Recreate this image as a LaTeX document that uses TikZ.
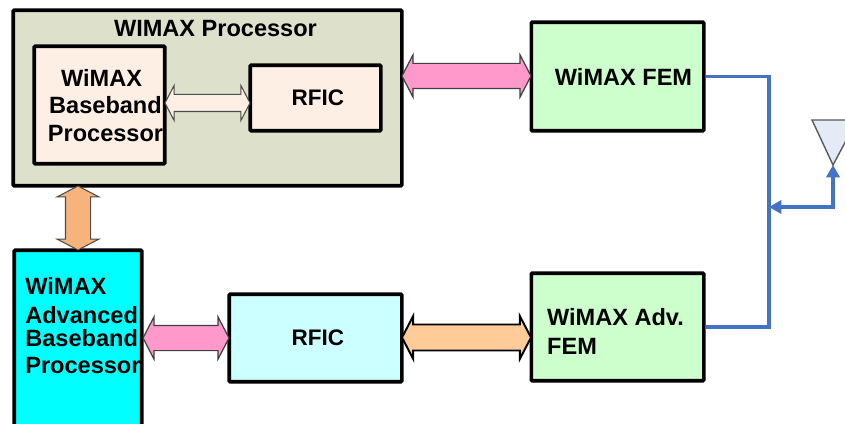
\documentclass[tikz,border=0pt]{standalone}
\usepackage{fontspec}
\setmainfont{Liberation Sans}
\usetikzlibrary{shapes.arrows,arrows.meta}

\definecolor{procgreen}{HTML}{DDE1CB}
\definecolor{paleorange}{HTML}{FDEFE4}
\definecolor{femgreen}{HTML}{CCFFCC}
\definecolor{advcyan}{HTML}{00FFFF}
\definecolor{rficcyan}{HTML}{CCFFFF}
\definecolor{linkpink}{HTML}{FF99CC}
\definecolor{linkorange}{HTML}{FFCC99}
\definecolor{linktan}{HTML}{F6B47C}
\definecolor{feedblue}{HTML}{4472C4}
\definecolor{antfill}{HTML}{E4EAF6}

\tikzset{
  box/.style={draw=black,line width=2pt,rounded corners=0.5pt,inner sep=0pt,font=\fontsize{12.8}{15}\bfseries},
  lbl/.style={inner sep=0pt,align=left,font=\fontsize{13.4}{15.5}\bfseries},
  link/.style={double arrow,draw,inner xsep=0pt,inner ysep=0.24cm,double arrow head extend=0.17cm,double arrow tip angle=125},
  feed/.style={draw=feedblue,line width=2.2pt},
}

\begin{document}
\begin{tikzpicture}
\useasboundingbox (0,0) rectangle (16.9,8.46);

% Upper processor block and what sits in it.
\node[box,fill=procgreen,minimum width=7.77cm,minimum height=3.51cm] (proc) at (4.15,6.50) {};
\node[box,fill=paleorange,minimum width=2.61cm,minimum height=2.35cm] (bbproc) at (1.99,6.36) {};
\node[box,fill=paleorange,minimum width=2.61cm,minimum height=1.31cm] (rficup) at (6.31,6.50) {\hspace{2.8pt}RFIC};
\node[lbl] (proclabel) at (4.31,7.89) {WIMAX Processor};
\node[lbl,align=center] (bblabel) at (2.11,6.35) {\mbox{WiMAX\hspace{4.5pt}}\\Baseband\\Processor};

% Front end modules.
\node[box,fill=femgreen,minimum width=3.45cm,minimum height=2.17cm] (fem) at (12.35,6.93) {};
\node[lbl] (femlabel) at (12.47,6.93) {WiMAX FEM};
\node[box,fill=femgreen,minimum width=3.45cm,minimum height=2.15cm] (advfem) at (12.35,1.92) {};
\node[lbl] (advfemlabel) at (12.31,1.83) {WiMAX Adv.\\[1.5pt]FEM};

% Lower row, the baseband box runs off the page.
\node[box,fill=advcyan,minimum width=2.55cm,minimum height=4.97cm] (advbb) at (1.56,0.97) {};
\node[box,fill=rficcyan,minimum width=3.45cm,minimum height=1.75cm] (rficlow) at (6.31,1.70) {\hspace{2.8pt}RFIC};
\node[lbl,anchor=west] (advbblabel) at (0.50,1.94) {WiMAX\\[1pt]Advanced\\[-2.5pt]Baseband\\Processor};

% Wide arrows.
\node[link,fill=paleorange,draw=black!70,line width=0.6pt,inner ysep=0.16cm,double arrow head extend=0.18cm,minimum height=1.70cm] (smalllink) at (4.15,6.40) {};
\node[link,fill=linkpink,draw=black!75,line width=0.7pt,minimum height=2.58cm] (femlink) at (9.33,6.94) {};
\node[link,fill=linkpink,draw=black!75,line width=0.7pt,minimum height=1.72cm] (bblink) at (3.72,1.70) {};
\node[link,fill=linkorange,draw=black,line width=1.1pt,minimum height=2.58cm] (rficlink) at (9.33,1.71) {};
\node[link,fill=linktan,draw=black!70,line width=0.6pt,shape border rotate=90,inner xsep=0.24cm,inner ysep=0pt,minimum height=1.28cm] (uplink) at (1.56,4.10) {};

% Antenna and feed lines.
\coordinate (anttip) at (16.66,5.16);
\draw[draw=black!65,fill=antfill,line width=0.8pt] (16.24,6.06) -- (17.14,6.06) -- (anttip) -- cycle;
\coordinate (joinup) at (15.38,6.93);
\coordinate (joinlow) at (15.38,1.92);
\coordinate (joinmid) at (15.38,4.32);
\coordinate (antcorner) at (16.66,4.32);
\draw[feed] (fem.east) -- (joinup) -- (joinlow) -- (advfem.east);
\draw[feed,{Triangle[length=7pt,width=7.5pt]}-{Triangle[length=7pt,width=7.5pt]}] (joinmid) -- (antcorner) -- (anttip);

\end{tikzpicture}
\end{document}
